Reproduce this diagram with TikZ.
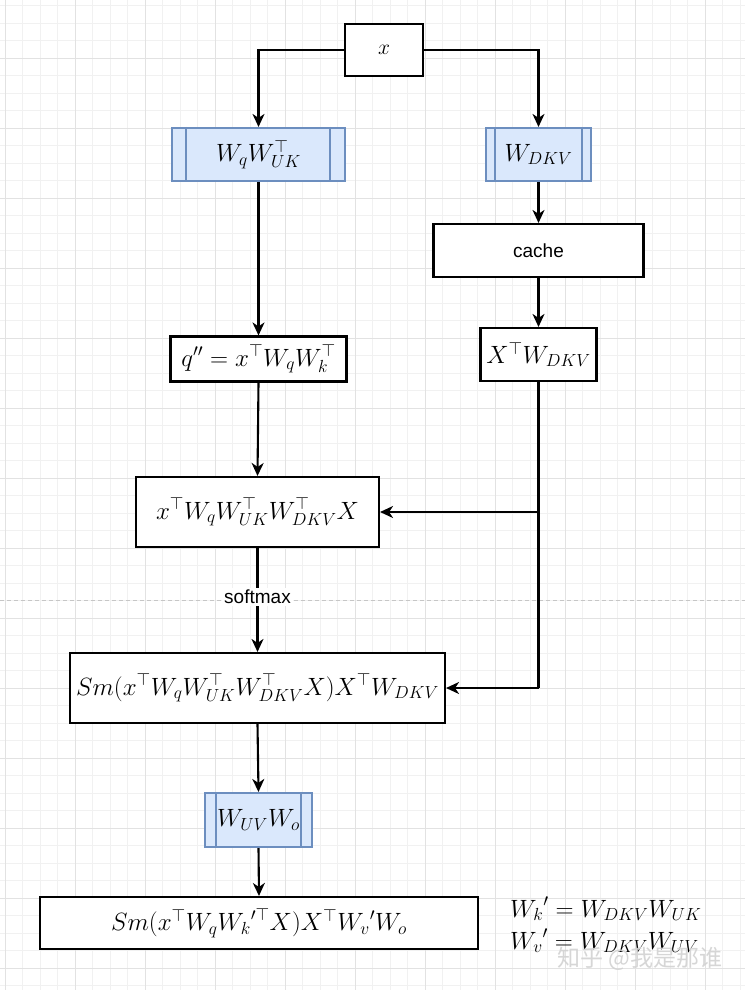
\RequirePackage{fix-cm}
\documentclass[tikz,border=0pt]{standalone}
\usepackage{fontspec}
\setsansfont{Liberation Sans}
\newfontfamily\cjkfont{Noto Sans CJK SC}
\usetikzlibrary{arrows.meta}
\definecolor{gridminor}{HTML}{F1F1F1}
\definecolor{gridmajor}{HTML}{E2E2E2}
\definecolor{bluefill}{HTML}{DAE8FC}
\definecolor{bluedraw}{HTML}{6C8EBF}
\tikzset{
  box/.style={draw=black, line width=2.1pt, fill=white, inner sep=0pt, font=\fontsize{25}{30}\selectfont},
  procbox/.style={draw=bluedraw, line width=2.1pt, fill=bluefill, inner sep=0pt, font=\fontsize{25}{30}\selectfont},
  sanslbl/.style={font=\sffamily\fontsize{19}{23}\selectfont},
  conn/.style={line width=2.1pt, -{Stealth[length=13pt,width=12pt,inset=4pt]}},
}
\begin{document}
\begin{tikzpicture}[x=1pt,y=-1pt]
\useasboundingbox (0,0) rectangle (745,990);
\fill[white] (0,0) rectangle (745,990);
% grid
\foreach \i in {0,...,42} { \draw[gridminor, line width=0.7pt] ({5+17.5*\i},0) -- ({5+17.5*\i},990); }
\foreach \i in {0,...,56} { \draw[gridminor, line width=0.7pt] (0,{5.8+17.5*\i}) -- (745,{5.8+17.5*\i}); }
\foreach \i in {0,...,10} { \draw[gridmajor, line width=0.8pt] ({5+70*\i},0) -- ({5+70*\i},990); }
\foreach \i in {0,...,14} { \draw[gridmajor, line width=0.8pt] (0,{-11.7+70*\i}) -- (745,{-11.7+70*\i}); }
% page break line
\draw[gray!45, line width=0.6pt, dash pattern=on 4pt off 3pt] (0,600) -- (745,600);

% nodes
\node[box, minimum width=78pt, minimum height=52pt] (x) at (384,50) {\scalebox{0.86}{$x$}};
\node[procbox, minimum width=173pt, minimum height=53pt] (wq) at (258.5,154.5) {$W_qW_{UK}^{\top}$};
\draw[bluedraw, line width=2.1pt] ([xshift=15pt]wq.north west) -- ([xshift=15pt]wq.south west)
  ([xshift=-16pt]wq.north east) -- ([xshift=-16pt]wq.south east);
\node[procbox, minimum width=105pt, minimum height=53pt] (wdkv) at (538.5,154.5) {$W_{DKV}$};
\draw[bluedraw, line width=2.1pt] ([xshift=10pt]wdkv.north west) -- ([xshift=10pt]wdkv.south west)
  ([xshift=-10pt]wdkv.north east) -- ([xshift=-10pt]wdkv.south east);
\node[box, sanslbl, minimum width=210pt, minimum height=53pt] (cache) at (538.5,250.5) {cache};
\node[box, minimum width=176pt, minimum height=45pt] (qpp) at (258.5,359) {$q'' = x^{\top}W_qW_k^{\top}$};
\node[box, minimum width=116pt, minimum height=53pt] (xtw) at (538.5,354.5) {$X^{\top}W_{DKV}$};
\node[box, minimum width=243pt, minimum height=70pt] (score) at (257.5,512) {$x^{\top}W_qW_{UK}^{\top}W_{DKV}^{\top}X$};
\node[box, minimum width=375pt, minimum height=70pt] (sm) at (257.5,688) {$Sm(x^{\top}W_qW_{UK}^{\top}W_{DKV}^{\top}X)X^{\top}W_{DKV}$};
\node[procbox, minimum width=107pt, minimum height=54pt] (wuv) at (258.5,820) {$W_{UV}W_o$};
\draw[bluedraw, line width=2.1pt] ([xshift=12pt]wuv.north west) -- ([xshift=12pt]wuv.south west)
  ([xshift=-12pt]wuv.north east) -- ([xshift=-12pt]wuv.south east);
\node[box, minimum width=438pt, minimum height=52pt] (final) at (259,923) {$Sm(x^{\top}W_q{W_k}^{\prime\top}X)X^{\top}{W_v}'W_o$};
\node[anchor=west, inner sep=0pt, font=\fontsize{25}{30}\selectfont] (defk) at (510,909) {${W_k}' = W_{DKV}W_{UK}$};
\node[anchor=west, inner sep=0pt, font=\fontsize{25}{30}\selectfont] (defv) at (510,941) {${W_v}' = W_{DKV}W_{UV}$};

% connectors
\coordinate (j1) at (538.5,512);
\coordinate (j2) at (538.5,688);
\draw[conn] (x.west) -| (wq.north);
\draw[conn] (x.east) -| (wdkv.north);
\draw[conn] (wq.south) -- (qpp.north);
\draw[conn] (wdkv.south) -- (cache.north);
\draw[conn] (cache.south) -- (xtw.north);
\draw[conn] (qpp.south) -- (score.north);
\draw[line width=2.1pt] (xtw.south) -- (j2);
\draw[conn] (j1) -- (score.east);
\draw[conn] (j2) -- (sm.east);
\draw[conn] (score.south) -- node[sanslbl, fill=white, inner sep=2pt, pos=0.47] (smx) {softmax} (sm.north);
\draw[conn] (sm.south) -- (wuv.north);
\draw[conn] (wuv.south) -- (final.north);

% watermark
\node[text=gray!35, font=\cjkfont\fontsize{23}{27}\selectfont, opacity=0.9] (wm) at (640,959) {知乎 @我是那谁};
\end{tikzpicture}
\end{document}
